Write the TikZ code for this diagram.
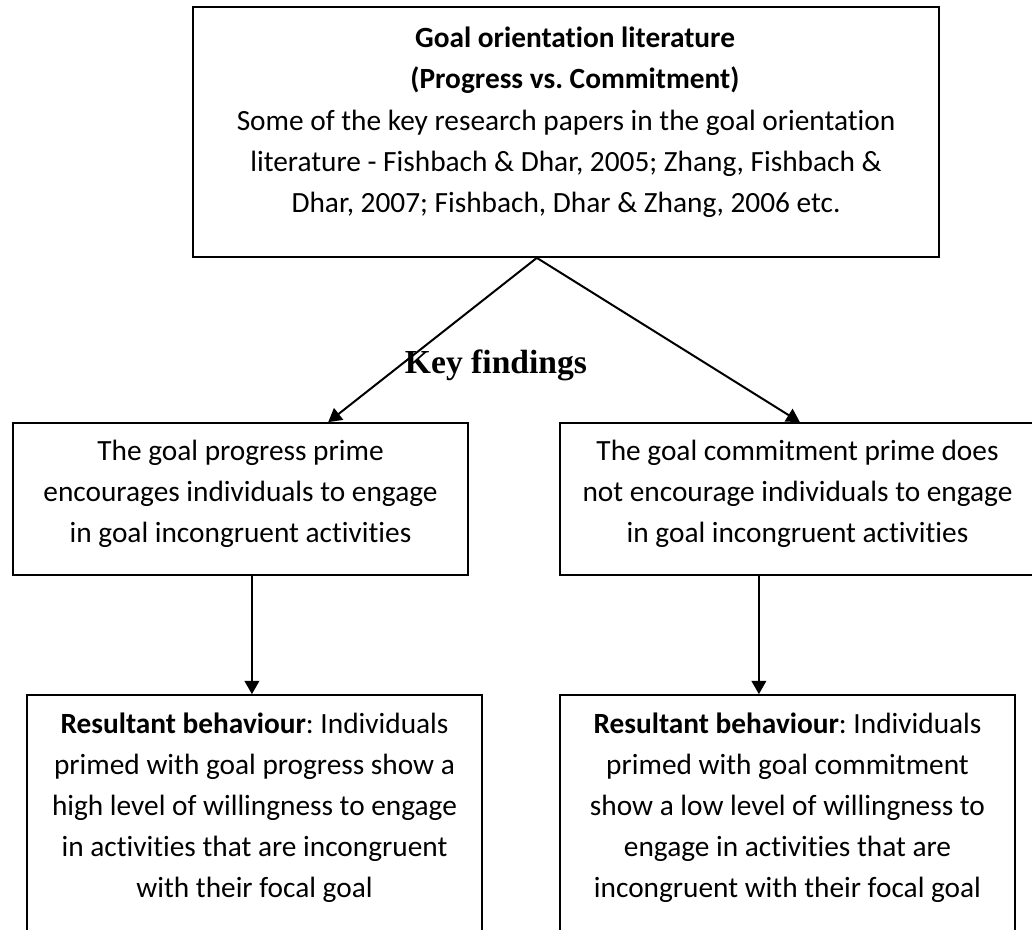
\documentclass[tikz,border=0pt]{standalone}
\usepackage{fontspec}
\setmainfont{Carlito}[Ligatures=NoCommon]
\newfontfamily\headfont{Liberation Serif}
\usetikzlibrary{arrows.meta,calc}
\frenchspacing
\begin{document}
\begin{tikzpicture}[x=0.75pt,y=-0.75pt,
  box/.style={draw=black,line width=1.3pt,rectangle,inner sep=0pt},
  % text blocks are placed by the baseline of their last line
  txt/.style={align=center,inner sep=0pt,anchor=base,
    font=\fontsize{22pt}{30.75pt}\selectfont},
  ttl/.style={txt,font=\fontsize{22pt}{30.75pt}\selectfont\bfseries},
  arr/.style={draw=black,line width=1.5pt,-{Triangle[width=11pt,length=10pt]}}]
\useasboundingbox (0,0) rectangle (1032,929);
\clip (0,0) rectangle (1032,929);

% boxes
\node[box,minimum width=559.5pt,minimum height=187.5pt] (top) at (566,132) {};
\node[box,minimum width=341.25pt,minimum height=114pt] (ml) at (240.5,499) {};
\node[box,minimum width=356.25pt,minimum height=114pt] (mr) at (797.5,499) {};
\node[box,minimum width=341.25pt,minimum height=210pt] (bl) at (254.5,835) {};
\node[box,minimum width=341.25pt,minimum height=210pt] (br) at (787.5,835) {};

% texts
\node[ttl] (title) at (575,88) {Goal orientation literature\\(Progress vs. Commitment)};
\node[txt] (refs) at (566,212) {Some of the key research papers in the goal orientation\\
  literature - Fishbach \& Dhar, 2005; Zhang, Fishbach \&\\
  Dhar, 2007; Fishbach, Dhar \& Zhang, 2006 etc.};
\node[txt] (mltxt) at (240.5,542) {The goal progress prime\\
  encourages individuals to engage\\in goal incongruent activities};
\node[txt] (mrtxt) at (797.5,542) {The goal commitment prime does\\
  not encourage individuals to engage\\in goal incongruent activities};
\node[txt] (bltxt) at (254.5,897) {\textbf{Resultant behaviour}: Individuals\\
  primed with goal progress show a\\high level of willingness to engage\\
  in activities that are incongruent\\with their focal goal};
\node[txt] (brtxt) at (787.5,897) {\textbf{Resultant behaviour}: Individuals\\
  primed with goal commitment\\show a low level of willingness to\\
  engage in activities that are\\incongruent with their focal goal};
\node[inner sep=0pt,anchor=base,font=\headfont\bfseries\fontsize{25.2pt}{30pt}\selectfont]
  (kf) at (496,373) {Key findings};

% connectors
\coordinate (apex) at ($(top.south west)!0.461!(top.south east)$);
\coordinate (mlin) at ($(ml.north west)!0.692!(ml.north east)$);
\coordinate (mrin) at ($(mr.north west)!0.505!(mr.north east)$);
\coordinate (mlout) at ($(ml.south west)!0.525!(ml.south east)$);
\coordinate (mrout) at ($(mr.south west)!0.419!(mr.south east)$);
\draw[arr] (apex) -- (mlin);
\draw[arr] (apex) -- (mrin);
\draw[arr] (mlout) -- (mlout |- bl.north);
\draw[arr] (mrout) -- (mrout |- br.north);
\end{tikzpicture}
\end{document}
